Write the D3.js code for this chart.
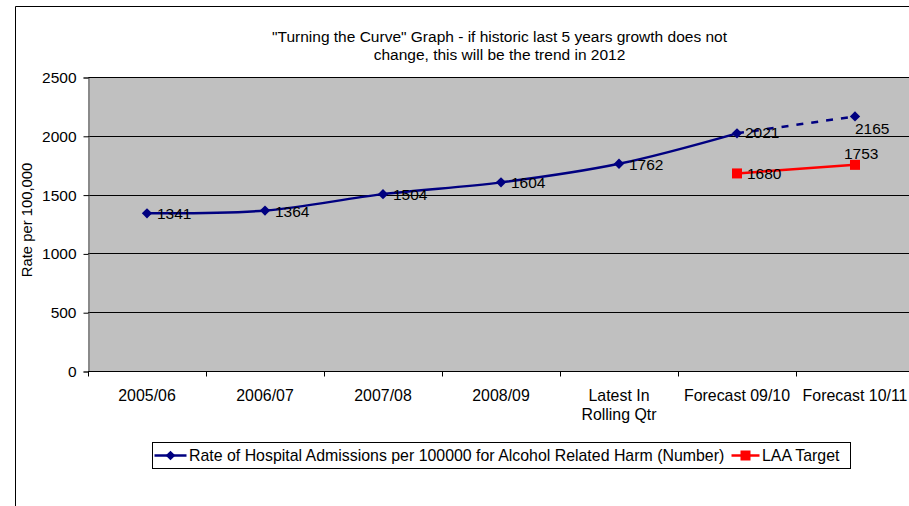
<!DOCTYPE html>
<html>
<head>
  <meta charset="utf-8">
  <title>Turning the Curve</title>
  <script src="https://d3js.org/d3.v7.min.js"></script>
  <style>
    body { margin: 0; background: #fff; }
    svg text { font-family: "Liberation Sans", Arial, sans-serif; fill: #000; }
  </style>
</head>
<body>
  <svg width="909" height="506"></svg>
  <script>
// data
const categories = ['2005/06', '2006/07', '2007/08', '2008/09', 'Latest In\nRolling Qtr', 'Forecast 09/10', 'Forecast 10/11'];
const admissions = [1341, 1364, 1504, 1604, 1762, 2021, 2165];
const laaTarget = [null, null, null, null, null, 1680, 1753];
const yTicks = [0, 500, 1000, 1500, 2000, 2500];
const titleLines = ['"Turning the Curve" Graph - if historic last 5 years growth does not', 'change, this will be the trend in 2012'];
const legendNames = ['Rate of Hospital Admissions per 100000 for Alcohol Related Harm (Number)', 'LAA Target'];

const svg = d3.select('svg');
const W = 909, H = 506;

// outer chart frame (cut off on the right and bottom)
svg.append('path')
  .attr('d', 'M15.5,' + H + 'V6.5H' + W)
  .attr('fill', 'none').attr('stroke', '#000').attr('stroke-width', 1);

const plot = { left: 88, top: 77, bottom: 371 };
const step = 118;
const plotRight = plot.left + step * categories.length;

const x = d3.scaleBand()
  .domain(d3.range(categories.length))
  .range([plot.left, plotRight]);

const y = d3.scaleLinear().domain([0, 2500]).range([plot.bottom, plot.top]);

// plot background
svg.append('rect')
  .attr('x', plot.left).attr('y', plot.top)
  .attr('width', plotRight - plot.left).attr('height', plot.bottom - plot.top)
  .attr('fill', '#c0c0c0');

// gridlines
svg.append('g')
  .selectAll('line').data(yTicks.filter(d => d > 0)).join('line')
  .attr('x1', plot.left).attr('x2', plotRight)
  .attr('y1', d => Math.round(y(d)) + 0.5).attr('y2', d => Math.round(y(d)) + 0.5)
  .attr('stroke', '#000').attr('stroke-width', 1);

// y axis
const yAxis = svg.append('g')
  .attr('transform', 'translate(' + (plot.left + 0.5) + ',0.5)')
  .call(d3.axisLeft(y).tickValues(yTicks).tickFormat(d3.format('d')).tickSize(5).tickPadding(7));
yAxis.select('.domain').attr('stroke', '#555');
yAxis.selectAll('line').attr('stroke', '#000');
yAxis.selectAll('text').attr('font-size', 15.5).attr('fill', '#000')
  .attr('font-family', '"Liberation Sans", Arial, sans-serif');

// x axis
const xAxisG = svg.append('g').attr('transform', 'translate(0,' + (plot.bottom + 0.5) + ')');
xAxisG.append('line')
  .attr('x1', plot.left).attr('x2', plotRight).attr('stroke', '#000');
xAxisG.selectAll('line.tk').data(d3.range(categories.length + 1)).join('line')
  .attr('class', 'tk')
  .attr('x1', i => Math.round(plot.left + i * step) + 0.5)
  .attr('x2', i => Math.round(plot.left + i * step) + 0.5)
  .attr('y1', 0).attr('y2', 5).attr('stroke', '#000');
const xl = xAxisG.selectAll('text.cat').data(categories).join('text')
  .attr('class', 'cat')
  .attr('text-anchor', 'middle')
  .attr('font-size', 15.9)
  .attr('transform', (d, i) => 'translate(' + (x(i) + x.bandwidth() / 2) + ',29.5)');
xl.selectAll('tspan').data(d => d.split('\n')).join('tspan')
  .attr('x', 0).attr('dy', (d, i) => i === 0 ? 0 : 19).text(d => d);

// y axis title
svg.append('text')
  .attr('transform', 'translate(32,220) rotate(-90)')
  .attr('text-anchor', 'middle').attr('font-size', 14.8)
  .text('Rate per 100,000');

// title
svg.append('g').selectAll('text').data(titleLines).join('text')
  .attr('x', 499.5).attr('y', (d, i) => 41.5 + i * 18)
  .attr('text-anchor', 'middle').attr('font-size', 15.5)
  .text(d => d);

const cx = i => x(i) + x.bandwidth() / 2;

// admissions line: smooth solid part, dashed forecast
const pts = admissions.map((v, i) => [cx(i), y(v)]);
const smooth = d3.line().curve(d3.curveCatmullRom.alpha(0.5));
svg.append('path')
  .attr('d', smooth(pts.slice(0, 6)))
  .attr('fill', 'none').attr('stroke', '#000080').attr('stroke-width', 2.5);
svg.append('path')
  .attr('d', smooth(pts.slice(5)))
  .attr('fill', 'none').attr('stroke', '#000080').attr('stroke-width', 2.5)
  .attr('stroke-dasharray', '7,8');

svg.append('g').selectAll('path').data(pts).join('path')
  .attr('transform', d => 'translate(' + d[0] + ',' + d[1] + ')')
  .attr('d', d3.symbol(d3.symbolDiamond2, 68)())
  .attr('fill', '#000080');

// LAA target
const tPts = laaTarget.map((v, i) => v == null ? null : [cx(i), y(v)]).filter(Boolean);
svg.append('path')
  .attr('d', d3.line()(tPts))
  .attr('fill', 'none').attr('stroke', '#ff0000').attr('stroke-width', 2.5);
svg.append('g').selectAll('rect').data(tPts).join('rect')
  .attr('x', d => d[0] - 5).attr('y', d => d[1] - 5)
  .attr('width', 10).attr('height', 10).attr('fill', '#ff0000');

// data labels (manual nudges as in the source chart)
const nudge = { a6: [-10, 12], t6: [-21, -12], a5: [-2, -1] };
const labels = [];
admissions.forEach((v, i) => labels.push({ v, x: cx(i), y: y(v), k: 'a' + i }));
laaTarget.forEach((v, i) => { if (v != null) labels.push({ v, x: cx(i), y: y(v), k: 't' + i }); });
svg.append('g').selectAll('text').data(labels).join('text')
  .attr('x', d => d.x + 10 + (nudge[d.k] ? nudge[d.k][0] : 0))
  .attr('y', d => d.y + 6 + (nudge[d.k] ? nudge[d.k][1] : 0))
  .attr('font-size', 15.5)
  .text(d => d.v);

// legend
const lg = svg.append('g').attr('transform', 'translate(152.5,442.5)');
lg.append('rect').attr('width', 698).attr('height', 26)
  .attr('fill', '#fff').attr('stroke', '#000');
lg.append('line').attr('x1', 2).attr('x2', 34).attr('y1', 13).attr('y2', 13)
  .attr('stroke', '#000080').attr('stroke-width', 2.5);
lg.append('path').attr('transform', 'translate(18,13)')
  .attr('d', d3.symbol(d3.symbolDiamond2, 60)()).attr('fill', '#000080');
lg.append('text').attr('x', 36.5).attr('y', 18.5).attr('font-size', 15.9).text(legendNames[0]);
lg.append('line').attr('x1', 579).attr('x2', 607).attr('y1', 13).attr('y2', 13)
  .attr('stroke', '#ff0000').attr('stroke-width', 2.5);
lg.append('rect').attr('x', 588).attr('y', 8).attr('width', 10).attr('height', 10).attr('fill', '#ff0000');
lg.append('text').attr('x', 609.5).attr('y', 18.5).attr('font-size', 15.9).text(legendNames[1]);
  </script>
</body>
</html>
